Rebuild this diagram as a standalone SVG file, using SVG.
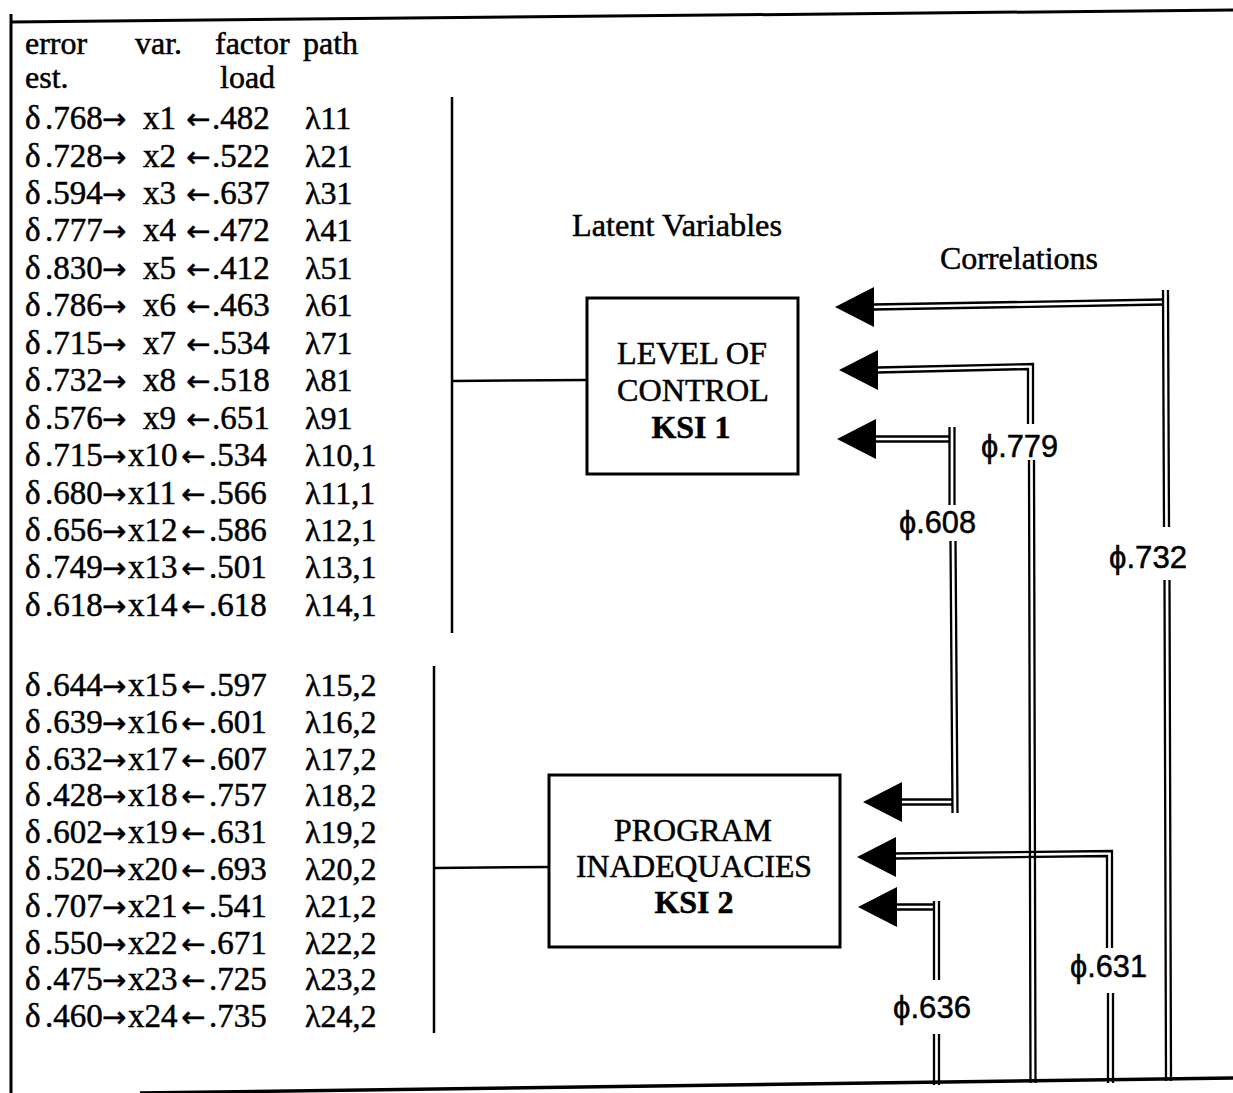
<svg xmlns="http://www.w3.org/2000/svg" width="1233" height="1093" viewBox="0 0 1233 1093">
<style>
.t{font-family:"Liberation Serif",serif;font-size:32px;fill:#000;stroke:#000;stroke-width:0.5}
.r{font-size:33px}
.a{font-family:"DejaVu Sans",sans-serif;font-size:29px}
.b{font-weight:bold}
.phi{font-family:"Liberation Sans","DejaVu Sans",sans-serif;font-size:31px;fill:#000;stroke:#000;stroke-width:0.5}
.frame{stroke:#000;stroke-width:3;fill:none}
.box{stroke:#000;stroke-width:3;fill:#fff}
.dl{stroke:#000;stroke-width:2.3;fill:none}
.ln{stroke:#000;stroke-width:2.5;fill:none}
</style>
<defs>
<path id="ah" d="M0,0 L39,-20 L39,20 Z" fill="#000"/>
</defs>
<rect width="1233" height="1093" fill="#fff"/>
<g id="frame">
<path class="frame" d="M11,22 L1233,10"/>
<path class="frame" d="M11,14 L11,1093"/>
<path class="frame" d="M140,1093 L1233,1078" style="stroke-width:3.5"/>
</g>
<g id="header">
<text class="t" x="25" y="54">error</text>
<text class="t" x="135" y="54">var.</text>
<text class="t" x="215" y="54">factor</text>
<text class="t" x="303" y="54">path</text>
<text class="t" x="25" y="88">est.</text>
<text class="t" x="220" y="88">load</text>
</g>
<g id="indicators1">
<text class="t r" y="129"><tspan x="25">δ</tspan><tspan x="45">.768</tspan><tspan class="a" x="102">→</tspan><tspan x="143">x1</tspan><tspan class="a" x="186">←</tspan><tspan x="212">.482</tspan></text><text class="t" x="305" y="129">λ11</text>
<text class="t r" y="166.5"><tspan x="25">δ</tspan><tspan x="45">.728</tspan><tspan class="a" x="102">→</tspan><tspan x="143">x2</tspan><tspan class="a" x="186">←</tspan><tspan x="212">.522</tspan></text><text class="t" x="305" y="166.5">λ21</text>
<text class="t r" y="204"><tspan x="25">δ</tspan><tspan x="45">.594</tspan><tspan class="a" x="102">→</tspan><tspan x="143">x3</tspan><tspan class="a" x="186">←</tspan><tspan x="212">.637</tspan></text><text class="t" x="305" y="204">λ31</text>
<text class="t r" y="241.4"><tspan x="25">δ</tspan><tspan x="45">.777</tspan><tspan class="a" x="102">→</tspan><tspan x="143">x4</tspan><tspan class="a" x="186">←</tspan><tspan x="212">.472</tspan></text><text class="t" x="305" y="241.4">λ41</text>
<text class="t r" y="278.8"><tspan x="25">δ</tspan><tspan x="45">.830</tspan><tspan class="a" x="102">→</tspan><tspan x="143">x5</tspan><tspan class="a" x="186">←</tspan><tspan x="212">.412</tspan></text><text class="t" x="305" y="278.8">λ51</text>
<text class="t r" y="316.3"><tspan x="25">δ</tspan><tspan x="45">.786</tspan><tspan class="a" x="102">→</tspan><tspan x="143">x6</tspan><tspan class="a" x="186">←</tspan><tspan x="212">.463</tspan></text><text class="t" x="305" y="316.3">λ61</text>
<text class="t r" y="353.7"><tspan x="25">δ</tspan><tspan x="45">.715</tspan><tspan class="a" x="102">→</tspan><tspan x="143">x7</tspan><tspan class="a" x="186">←</tspan><tspan x="212">.534</tspan></text><text class="t" x="305" y="353.7">λ71</text>
<text class="t r" y="391.2"><tspan x="25">δ</tspan><tspan x="45">.732</tspan><tspan class="a" x="102">→</tspan><tspan x="143">x8</tspan><tspan class="a" x="186">←</tspan><tspan x="212">.518</tspan></text><text class="t" x="305" y="391.2">λ81</text>
<text class="t r" y="428.6"><tspan x="25">δ</tspan><tspan x="45">.576</tspan><tspan class="a" x="102">→</tspan><tspan x="143">x9</tspan><tspan class="a" x="186">←</tspan><tspan x="212">.651</tspan></text><text class="t" x="305" y="428.6">λ91</text>
<text class="t r" y="466"><tspan x="25">δ</tspan><tspan x="45">.715</tspan><tspan class="a" x="102">→</tspan><tspan x="128">x10</tspan><tspan class="a" x="181">←</tspan><tspan x="209">.534</tspan></text><text class="t" x="305" y="466">λ10,1</text>
<text class="t r" y="503.5"><tspan x="25">δ</tspan><tspan x="45">.680</tspan><tspan class="a" x="102">→</tspan><tspan x="128">x11</tspan><tspan class="a" x="181">←</tspan><tspan x="209">.566</tspan></text><text class="t" x="305" y="503.5">λ11,1</text>
<text class="t r" y="541"><tspan x="25">δ</tspan><tspan x="45">.656</tspan><tspan class="a" x="102">→</tspan><tspan x="128">x12</tspan><tspan class="a" x="181">←</tspan><tspan x="209">.586</tspan></text><text class="t" x="305" y="541">λ12,1</text>
<text class="t r" y="578.4"><tspan x="25">δ</tspan><tspan x="45">.749</tspan><tspan class="a" x="102">→</tspan><tspan x="128">x13</tspan><tspan class="a" x="181">←</tspan><tspan x="209">.501</tspan></text><text class="t" x="305" y="578.4">λ13,1</text>
<text class="t r" y="615.9"><tspan x="25">δ</tspan><tspan x="45">.618</tspan><tspan class="a" x="102">→</tspan><tspan x="128">x14</tspan><tspan class="a" x="181">←</tspan><tspan x="209">.618</tspan></text><text class="t" x="305" y="615.9">λ14,1</text>
</g>
<g id="indicators2">
<text class="t r" y="696"><tspan x="25">δ</tspan><tspan x="45">.644</tspan><tspan class="a" x="102">→</tspan><tspan x="128">x15</tspan><tspan class="a" x="181">←</tspan><tspan x="209">.597</tspan></text><text class="t" x="305" y="696">λ15,2</text>
<text class="t r" y="732.8"><tspan x="25">δ</tspan><tspan x="45">.639</tspan><tspan class="a" x="102">→</tspan><tspan x="128">x16</tspan><tspan class="a" x="181">←</tspan><tspan x="209">.601</tspan></text><text class="t" x="305" y="732.8">λ16,2</text>
<text class="t r" y="769.6"><tspan x="25">δ</tspan><tspan x="45">.632</tspan><tspan class="a" x="102">→</tspan><tspan x="128">x17</tspan><tspan class="a" x="181">←</tspan><tspan x="209">.607</tspan></text><text class="t" x="305" y="769.6">λ17,2</text>
<text class="t r" y="806.4"><tspan x="25">δ</tspan><tspan x="45">.428</tspan><tspan class="a" x="102">→</tspan><tspan x="128">x18</tspan><tspan class="a" x="181">←</tspan><tspan x="209">.757</tspan></text><text class="t" x="305" y="806.4">λ18,2</text>
<text class="t r" y="843.2"><tspan x="25">δ</tspan><tspan x="45">.602</tspan><tspan class="a" x="102">→</tspan><tspan x="128">x19</tspan><tspan class="a" x="181">←</tspan><tspan x="209">.631</tspan></text><text class="t" x="305" y="843.2">λ19,2</text>
<text class="t r" y="880"><tspan x="25">δ</tspan><tspan x="45">.520</tspan><tspan class="a" x="102">→</tspan><tspan x="128">x20</tspan><tspan class="a" x="181">←</tspan><tspan x="209">.693</tspan></text><text class="t" x="305" y="880">λ20,2</text>
<text class="t r" y="916.8"><tspan x="25">δ</tspan><tspan x="45">.707</tspan><tspan class="a" x="102">→</tspan><tspan x="128">x21</tspan><tspan class="a" x="181">←</tspan><tspan x="209">.541</tspan></text><text class="t" x="305" y="916.8">λ21,2</text>
<text class="t r" y="953.6"><tspan x="25">δ</tspan><tspan x="45">.550</tspan><tspan class="a" x="102">→</tspan><tspan x="128">x22</tspan><tspan class="a" x="181">←</tspan><tspan x="209">.671</tspan></text><text class="t" x="305" y="953.6">λ22,2</text>
<text class="t r" y="990.4"><tspan x="25">δ</tspan><tspan x="45">.475</tspan><tspan class="a" x="102">→</tspan><tspan x="128">x23</tspan><tspan class="a" x="181">←</tspan><tspan x="209">.725</tspan></text><text class="t" x="305" y="990.4">λ23,2</text>
<text class="t r" y="1027.2"><tspan x="25">δ</tspan><tspan x="45">.460</tspan><tspan class="a" x="102">→</tspan><tspan x="128">x24</tspan><tspan class="a" x="181">←</tspan><tspan x="209">.735</tspan></text><text class="t" x="305" y="1027.2">λ24,2</text>
</g>
<g id="titles">
<text class="t" x="572" y="236" textLength="210" lengthAdjust="spacingAndGlyphs">Latent Variables</text>
<text class="t" x="940" y="269" textLength="158" lengthAdjust="spacingAndGlyphs">Correlations</text>
</g>
<g id="ksi1">
<rect class="box" x="587" y="298" width="211" height="176"/>
<text class="t" x="692" y="364" text-anchor="middle" textLength="150" lengthAdjust="spacingAndGlyphs">LEVEL OF</text>
<text class="t" x="693" y="401" text-anchor="middle" textLength="152" lengthAdjust="spacingAndGlyphs">CONTROL</text>
<text class="t b" x="691" y="438" text-anchor="middle">KSI 1</text>
</g>
<g id="ksi2">
<rect class="box" x="549" y="775" width="291" height="172"/>
<text class="t" x="693" y="841" text-anchor="middle" textLength="158" lengthAdjust="spacingAndGlyphs">PROGRAM</text>
<text class="t" x="694" y="877" text-anchor="middle" textLength="236" lengthAdjust="spacingAndGlyphs">INADEQUACIES</text>
<text class="t b" x="694" y="913" text-anchor="middle">KSI 2</text>
</g>
<g id="connectors">
<g id="load1">
<path class="ln" d="M452,97 V633"/>
<path class="ln" d="M452,381 L587,380"/>
</g>
<g id="load2">
<path class="ln" d="M434,666 V1033"/>
<path class="ln" d="M434,868 L549,867"/>
</g>
<g id="phi732">
<use href="#ah" transform="translate(835,307)"/>
<path class="dl" d="M873,304.5 L1163,299.5 M873,309.5 L1163,304.5"/>
<path class="dl" d="M1163,290 L1164,527 M1168,290 L1169,527 M1164.5,580 L1166,1081 M1169.5,580 L1171,1081"/>
<text class="phi" x="1109" y="568" textLength="78" lengthAdjust="spacingAndGlyphs">ϕ.732</text>
</g>
<g id="phi779">
<use href="#ah" transform="translate(839,370)"/>
<path class="dl" d="M877,367.5 L1033,364 L1033,424 M877,372.5 L1028,369 L1028,424"/>
<path class="dl" d="M1029,460 L1030.5,1083 M1034,460 L1035.5,1083"/>
<text class="phi" x="981" y="457" textLength="77" lengthAdjust="spacingAndGlyphs">ϕ.779</text>
</g>
<g id="phi608">
<use href="#ah" transform="translate(837,439)"/>
<path class="dl" d="M874,436.5 L949.5,436.5 M874,441.5 L949.5,441.5"/>
<path class="dl" d="M949.5,427 V505 M954.5,427 V505 M950.5,541 L952.5,813 M955.5,541 L957.5,813"/>
<use href="#ah" transform="translate(863,802)"/>
<path class="dl" d="M899,799.5 L952,799.5 M899,804.5 L952,804.5"/>
<text class="phi" x="899" y="533" textLength="77" lengthAdjust="spacingAndGlyphs">ϕ.608</text>
</g>
<g id="phi631">
<use href="#ah" transform="translate(857,857)"/>
<path class="dl" d="M894,853.5 L1112,851 L1112,948 M894,858.5 L1107,856 L1107,948"/>
<path class="dl" d="M1108,993 V1083 M1113,993 V1083"/>
<text class="phi" x="1070" y="977" textLength="77" lengthAdjust="spacingAndGlyphs">ϕ.631</text>
</g>
<g id="phi636">
<use href="#ah" transform="translate(858,907)"/>
<path class="dl" d="M895,904.5 L934,904.5 M895,909.5 L934,909.5"/>
<path class="dl" d="M934,901 V980 M939,901 V980 M934,1034 V1085 M939,1034 V1085"/>
<text class="phi" x="893" y="1018" textLength="78" lengthAdjust="spacingAndGlyphs">ϕ.636</text>
</g>
</g>
</svg>
